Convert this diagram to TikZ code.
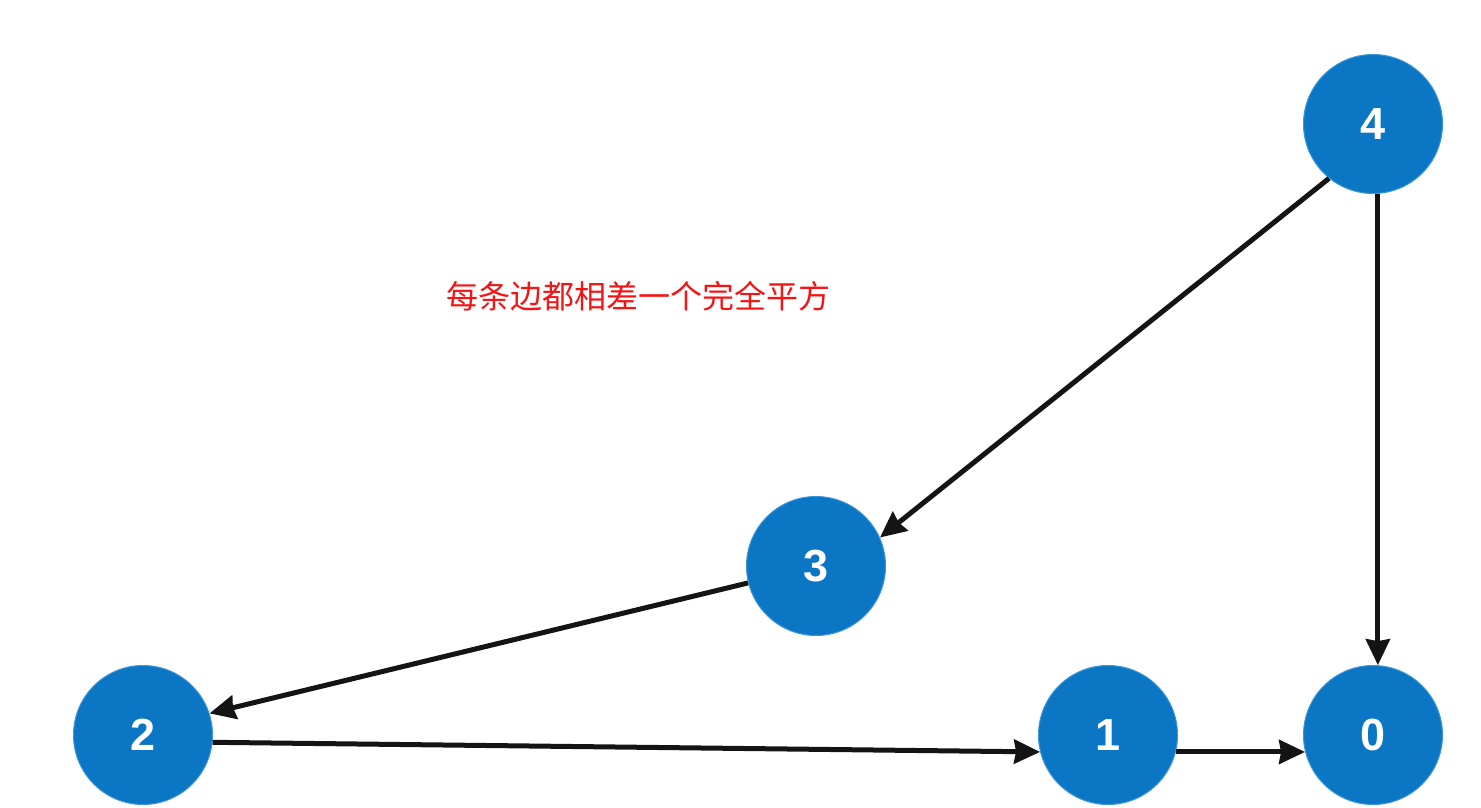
\documentclass[tikz,border=0pt]{standalone}
\usepackage{fontspec}
\setmainfont{Liberation Sans}
\newfontfamily\cjk{Noto Sans CJK SC}
\usetikzlibrary{arrows.meta}
\definecolor{nodeblue}{RGB}{10,118,196}
\definecolor{edgeblue}{RGB}{60,150,215}
\definecolor{labelred}{RGB}{245,20,20}
\tikzset{
  vtx/.style={circle, fill=nodeblue, draw=edgeblue, line width=1pt, minimum size=139pt, inner sep=0pt,
    text=white, font=\fontsize{45}{45}\selectfont\bfseries},
  edge/.style={line width=5pt, draw=black!92, -{Stealth[length=26pt,width=24pt,inset=2pt]}}
}
\begin{document}
\begin{tikzpicture}[x=1pt,y=-1pt]
\useasboundingbox (0,0) rectangle (1481,808);
\node[vtx] (n4) at (1373,124) {4};
\node[vtx] (n3) at (816,566) {3};
\node[vtx] (n2) at (143,735) {2};
\node[vtx] (n1) at (1108,735) {1};
\node[vtx] (n0) at (1373,735) {0};
\node[text=labelred, font=\cjk\fontsize{32}{32}\selectfont, inner sep=0pt] (lbl) at (638,296) {每条边都相差一个完全平方};
\draw[edge] (n4.231) -- (n3.24);
\draw[edge] (n4.274) -- (n0.86);
\draw[edge] (n3.194) -- (n2.18);
\draw[edge] (n2.354) -- (n1.194);
\draw[edge] (n1.346) -- (n0.194);
\end{tikzpicture}
\end{document}
